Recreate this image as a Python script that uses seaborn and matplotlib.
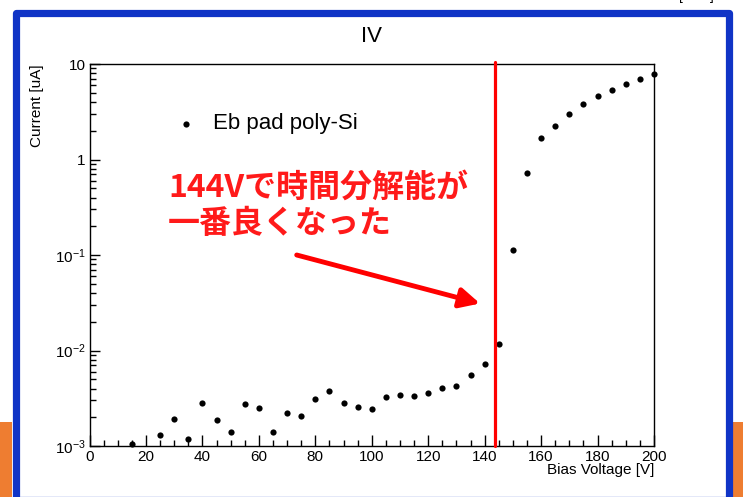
import numpy as np
import seaborn as sns
import matplotlib.pyplot as plt
from matplotlib.patches import Rectangle
from matplotlib.ticker import MultipleLocator, FuncFormatter, LogLocator

# IV curve, Eb pad poly-Si
voltage = [15, 25, 30, 35, 40, 45, 50, 55, 60, 65, 70, 75, 80, 85, 90, 95, 100,
           105, 110, 115, 120, 125, 130, 135, 140, 145, 150, 155, 160, 165, 170,
           175, 180, 185, 190, 195, 200]
current = [1.05e-3, 1.29e-3, 1.90e-3, 1.18e-3, 2.82e-3, 1.87e-3, 1.40e-3, 2.73e-3,
           2.48e-3, 1.41e-3, 2.23e-3, 2.06e-3, 3.10e-3, 3.77e-3, 2.84e-3, 2.54e-3,
           2.46e-3, 3.22e-3, 3.46e-3, 3.36e-3, 3.55e-3, 4.05e-3, 4.28e-3, 5.5e-3,
           7.2e-3, 1.17e-2, 0.113, 0.72, 1.68, 2.24, 2.99, 3.8, 4.62, 5.35, 6.17,
           6.96, 7.86]
best_voltage = 143.5
series_label = 'Eb pad poly-Si'
note_lines = ['144Vで時間分解能が', '一番良くなった']

sns.set_theme(style='ticks')
plt.rcParams['font.family'] = ['Liberation Sans', 'Noto Sans CJK JP', 'DejaVu Sans']
plt.rcParams['mathtext.fontset'] = 'custom'
plt.rcParams['mathtext.rm'] = 'Liberation Sans'
plt.rcParams['mathtext.it'] = 'Liberation Sans:italic'
plt.rcParams['text.color'] = 'black'
plt.rcParams['axes.labelcolor'] = 'black'

W, H = 743, 497
fig = plt.figure(figsize=(W / 100, H / 100), dpi=100)
fig.patch.set_facecolor('white')

# slide decorations: orange strips and blue frame (behind the axes)
for x0 in (0, 732):
    fig.add_artist(Rectangle((x0 / W, 0), 12 / W, 75 / H, transform=fig.transFigure,
                             facecolor='#ee7d31', edgecolor='none', zorder=-3))
fig.add_artist(Rectangle((15.5 / W, -3 / H), 713 / W, (497 - 13 + 3) / H,
                         transform=fig.transFigure, facecolor='white',
                         edgecolor='#1034c6', lw=5.2, joinstyle='round', zorder=-2))
fig.text(696 / W, 1 - 3 / H, '[       ]', ha='center', va='bottom', fontsize=10, color='black')

ax = fig.add_axes([89.6 / W, 1 - 446 / H, 564.4 / W, 382 / H])
ax.set_facecolor('white')

sns.scatterplot(x=voltage, y=current, color='black', s=20, linewidth=0,
                label=series_label, ax=ax, clip_on=False, zorder=3)

ax.set_yscale('log')
ax.set_xlim(0, 200)
ax.set_ylim(1e-3, 10)

ax.axvline(best_voltage, ymin=0, ymax=1.006, color='#ff0000', lw=2.3, clip_on=False, zorder=4)

# ROOT-like axes
for sp in ax.spines.values():
    sp.set_visible(True)
    sp.set_linewidth(1.0)
    sp.set_color('black')
ax.xaxis.set_major_locator(MultipleLocator(20))
ax.xaxis.set_minor_locator(MultipleLocator(5))
ax.yaxis.set_major_locator(LogLocator(base=10, numticks=10))
ax.yaxis.set_minor_locator(LogLocator(base=10, subs=np.arange(2, 10), numticks=10))


def yfmt(v, pos):
    if v >= 1:
        return f'{v:g}'
    e = int(round(np.log10(v)))
    return f'$10^{{{e}}}$'


ax.yaxis.set_major_formatter(FuncFormatter(yfmt))
ax.tick_params(axis='both', which='both', direction='in', top=False, right=False,
               colors='black', labelcolor='black', labelsize=11, width=1.0)
ax.tick_params(axis='x', which='major', length=8, pad=3)
ax.tick_params(axis='x', which='minor', length=4)
ax.tick_params(axis='y', which='major', length=7, pad=3)
ax.tick_params(axis='y', which='minor', length=4.3)

ax.set_title('IV', fontsize=16, pad=16, color='black')
ax.set_xlabel('Bias Voltage [V]', fontsize=11, loc='right')
ax.xaxis.set_label_coords(1.0, -0.044)
ax.set_ylabel('Current [uA]', fontsize=11, loc='top')
ax.yaxis.set_label_coords(-0.08, 1.0)

leg = ax.legend(loc='center left', bbox_to_anchor=(175 / W, 1 - 124 / H),
                bbox_transform=fig.transFigure, frameon=False, fontsize=16,
                handlelength=1.0, handletextpad=0.72, borderpad=0, borderaxespad=0)
for t in leg.get_texts():
    t.set_color('black')

# annotation
fig.text(168 / W, 1 - 188 / H, note_lines[0], color='#ff1a1a', fontsize=23,
         fontweight='bold', family=['Noto Sans CJK JP'], ha='left', va='center')
fig.text(168 / W, 1 - 224 / H, note_lines[1], color='#ff1a1a', fontsize=23,
         fontweight='bold', family=['Noto Sans CJK JP'], ha='left', va='center')
ax.annotate('', xy=(480 / W, 1 - 303.5 / H), xytext=(296.7 / W, 1 - 255 / H),
            xycoords='figure fraction', textcoords='figure fraction',
            arrowprops=dict(arrowstyle='-|>,head_length=0.6,head_width=0.3',
                            color='#ff0000', lw=3.5, mutation_scale=20,
                            shrinkA=0, shrinkB=0))

fig.savefig('out.png', dpi=100)
